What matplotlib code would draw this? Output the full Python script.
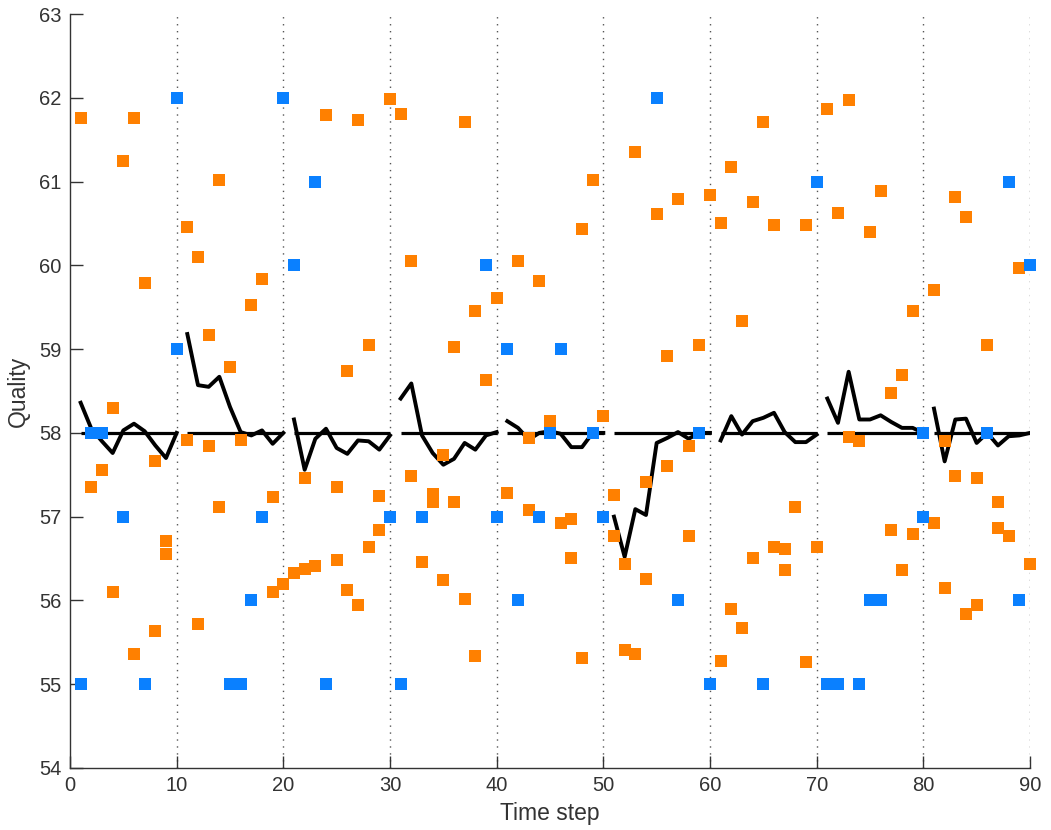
import matplotlib
matplotlib.use("Agg")
import matplotlib.pyplot as plt

plt.rcParams['font.family'] = ['Liberation Sans', 'DejaVu Sans']

# orange samples (time step, quality)
orange_t = [1, 2, 3, 4, 4, 5, 6, 6, 7, 8, 8, 9, 9,
            11, 11, 12, 12, 13, 13, 14, 14, 15, 16, 17, 18, 19, 19, 20,
            21, 22, 22, 23, 24, 25, 25, 26, 26, 27, 27, 28, 28, 29, 29, 30,
            31, 32, 32, 33, 34, 34, 35, 35, 36, 36, 37, 37, 38, 38, 39, 40,
            41, 42, 43, 43, 44, 45, 46, 47, 47, 48, 48, 49, 50,
            51, 51, 52, 52, 53, 53, 54, 54, 55, 56, 56, 57, 58, 58, 59, 60,
            61, 61, 62, 62, 63, 63, 64, 64, 65, 66, 66, 67, 67, 68, 69, 69, 70,
            71, 72, 73, 73, 74, 75, 76, 77, 77, 78, 78, 79, 79,
            81, 81, 82, 82, 83, 83, 84, 84, 85, 85, 86, 87, 87, 88, 89, 90]
orange_q = [61.76, 57.35, 57.56, 58.30, 56.10, 61.25, 61.76, 55.36, 59.79, 57.66, 55.64, 56.71, 56.56,
            60.46, 57.92, 60.10, 55.72, 59.17, 57.84, 61.02, 57.12, 58.79, 57.92, 59.53, 59.84, 57.23, 56.10, 56.20,
            56.33, 57.46, 56.38, 56.41, 61.79, 57.36, 56.48, 58.74, 56.12, 61.74, 55.95, 59.05, 56.64, 57.25, 56.84, 61.99,
            61.81, 60.05, 57.48, 56.46, 57.27, 57.17, 57.74, 56.25, 59.02, 57.18, 61.71, 56.02, 59.46, 55.34, 58.63, 59.61,
            57.28, 60.05, 57.94, 57.08, 59.81, 58.14, 56.92, 56.97, 56.51, 60.43, 55.31, 61.02, 58.20,
            57.26, 56.77, 56.44, 55.41, 61.35, 55.36, 57.41, 56.26, 60.61, 58.92, 57.61, 60.79, 57.84, 56.77, 59.05, 60.84,
            60.51, 55.28, 61.17, 55.90, 59.33, 55.67, 60.76, 56.51, 61.71, 60.48, 56.64, 56.61, 56.36, 57.12, 60.48, 55.26, 56.64,
            61.87, 60.63, 61.97, 57.95, 57.90, 60.40, 60.89, 58.48, 56.84, 58.69, 56.36, 59.46, 56.79,
            59.71, 56.92, 57.90, 56.15, 60.81, 57.48, 60.58, 55.84, 57.46, 55.95, 59.05, 57.18, 56.87, 56.77, 59.97, 56.43]

# blue samples (integer quality)
blue_t = [1, 2, 3, 5, 7, 10, 10, 15, 16, 17, 18, 20, 21, 23, 24, 30, 31, 33, 39, 40,
          41, 42, 44, 45, 46, 49, 50, 55, 57, 59, 60, 65, 70, 71, 72, 74, 75, 76,
          80, 80, 86, 88, 89, 90]
blue_q = [55, 58, 58, 57, 55, 62, 59, 55, 55, 56, 57, 62, 60, 61, 55, 57, 55, 57, 60, 57,
          59, 56, 57, 58, 59, 58, 57, 62, 56, 58, 55, 55, 61, 55, 55, 55, 56, 56,
          58, 57, 58, 61, 56, 60]

# running estimate, one block of 10 steps each
estimate = [
    [58.36, 58.05, 57.90, 57.76, 58.03, 58.11, 58.02, 57.85, 57.70, 58.00],
    [59.18, 58.57, 58.55, 58.67, 58.31, 58.01, 57.97, 58.03, 57.87, 58.00],
    [58.16, 57.56, 57.93, 58.05, 57.82, 57.75, 57.91, 57.90, 57.80, 57.97],
    [58.41, 58.59, 57.97, 57.76, 57.62, 57.69, 57.88, 57.80, 57.97, 58.01],
    [58.14, 58.06, 57.92, 58.00, 58.02, 57.99, 57.83, 57.83, 58.00, 58.00],
    [57.00, 56.52, 57.09, 57.02, 57.88, 57.94, 58.01, 57.93, 58.00, 58.00],
    [57.91, 58.20, 57.98, 58.14, 58.18, 58.24, 58.01, 57.89, 57.89, 57.98],
    [58.41, 58.12, 58.73, 58.16, 58.16, 58.21, 58.13, 58.06, 58.06, 58.00],
    [58.29, 57.66, 58.16, 58.17, 57.88, 58.00, 57.85, 57.96, 57.97, 58.00],
]
target = 58
block_len = 10

fig = plt.figure(figsize=(10.51, 8.30), dpi=100)
ax = fig.add_axes([0.0666, 0.0747, 0.9134, 0.9084])

for x in range(10, 91, 10):
    ax.axvline(x, color='#555555', linestyle=(0, (1, 4)), linewidth=1.0, zorder=1)

for b, vals in enumerate(estimate):
    ts = list(range(b * block_len + 1, (b + 1) * block_len + 1))
    ax.plot([ts[0], ts[-1]], [target, target], color='black', linewidth=2.3,
            solid_capstyle='butt', zorder=2)
    ax.plot(ts, vals, color='black', linewidth=2.8, zorder=2)

ax.plot(orange_t, orange_q, 's', color='#ff8000', markersize=8.6,
        markeredgewidth=0, zorder=3, clip_on=False)
ax.plot(blue_t, blue_q, 's', color='#0a80ff', markersize=8.6,
        markeredgewidth=0, zorder=3, clip_on=False)

ax.set_xlim(0, 90)
ax.set_ylim(54, 63)
ax.set_xticks(range(0, 91, 10))
ax.set_yticks(range(54, 64))
ax.spines['top'].set_visible(False)
ax.spines['right'].set_visible(False)
for s in ('left', 'bottom'):
    ax.spines[s].set_color('#333333')
    ax.spines[s].set_linewidth(1.0)
ax.tick_params(direction='in', length=9, width=1.0, colors='#333333',
               labelsize=14.5, pad=6)
ax.set_xlabel('Time step', fontsize=16.5, color='#333333', labelpad=5)
ax.set_ylabel('Quality', fontsize=16.5, color='#333333', labelpad=7)

fig.savefig('out.png', dpi=100)
